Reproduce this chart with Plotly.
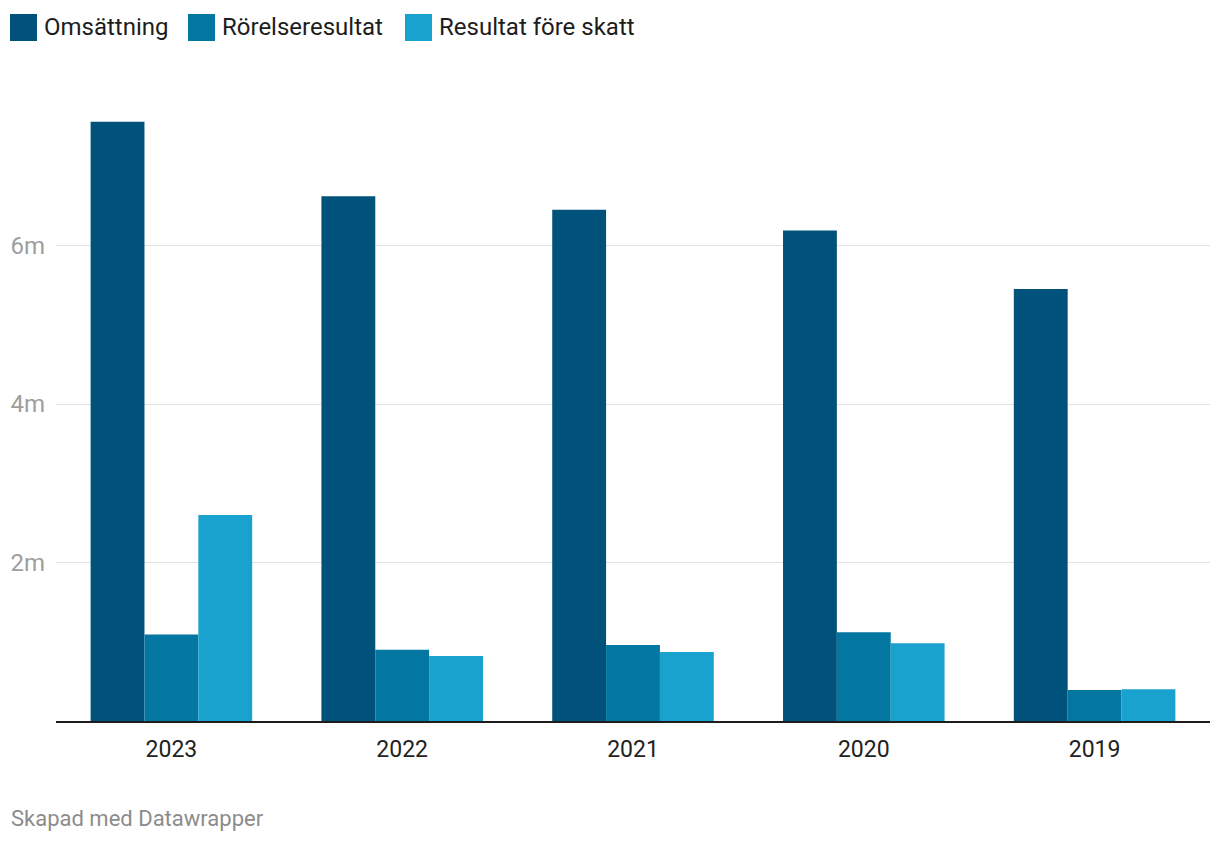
import plotly.graph_objects as go

years = ["2023", "2022", "2021", "2020", "2019"]
omsattning = [7.56, 6.62, 6.45, 6.19, 5.45]
rorelseresultat = [1.09, 0.90, 0.96, 1.12, 0.39]
resultat_fore_skatt = [2.60, 0.82, 0.87, 0.98, 0.40]
series_names = ["Omsättning", "Rörelseresultat", "Resultat före skatt"]
colors = ["#00527a", "#0377a1", "#1aa2cf"]
y_ticks = [2, 4, 6]
y_ticktext = ["2m", "4m", "6m"]

# page body has an 8px margin; work in page pixels and convert
OFF = 8
W, H = 1212, 836
ML, MR, MT, MB = 56 - OFF, 10, 87 - OFF, H - (721 - OFF)
pw, ph = W - ML - MR, H - MT - MB

def px_x(p):
    return (p - OFF - ML) / pw

def px_y(p):
    return (H - MB - (p - OFF)) / ph

fig = go.Figure()
for name, vals, c in zip(series_names, [omsattning, rorelseresultat, resultat_fore_skatt], colors):
    fig.add_trace(go.Bar(x=years, y=vals, name=name, marker=dict(color=c, line=dict(width=0)),
                         showlegend=False, hoverinfo="x+y+name"))

shapes = []
annotations = []
legend_x = [10, 188, 405]
for name, c, lx in zip(series_names, colors, legend_x):
    shapes.append(dict(type="rect", xref="paper", yref="paper",
                       x0=px_x(lx), x1=px_x(lx + 27), y0=px_y(41), y1=px_y(14),
                       fillcolor=c, line=dict(width=0)))
    annotations.append(dict(text=name, xref="paper", yref="paper", x=px_x(lx + 32), y=px_y(27),
                            xanchor="left", yanchor="middle", showarrow=False,
                            font=dict(family="Roboto", size=24, color="#1d1d1d")))

annotations.append(dict(text="Skapad med Datawrapper", xref="paper", yref="paper",
                        x=px_x(9), y=px_y(818), xanchor="left", yanchor="middle", showarrow=False,
                        font=dict(family="Roboto", size=22, color="#8c8c8c")))

fig.update_layout(
    width=W, height=H,
    margin=dict(l=ML, r=MR, t=MT, b=MB, autoexpand=False),
    plot_bgcolor="white", paper_bgcolor="white",
    barmode="group", bargap=0.30, bargroupgap=0,
    shapes=shapes, annotations=annotations,
    font=dict(family="Roboto"),
    xaxis=dict(showgrid=False, showline=True, linecolor="#1d1d1d", linewidth=2,
               ticks="", tickfont=dict(family="Roboto", size=23, color="#222222"),
               ticklabelstandoff=6, fixedrange=True),
    yaxis=dict(range=[0, 8], tickvals=y_ticks, ticktext=y_ticktext, showgrid=True,
               gridcolor="#e2e2e2", gridwidth=1, zeroline=False, showline=False, ticks="",
               tickfont=dict(family="Roboto", size=24, color="#9e9e9e"),
               ticklabelstandoff=10, fixedrange=True),
)

fig.write_html("out.html")
